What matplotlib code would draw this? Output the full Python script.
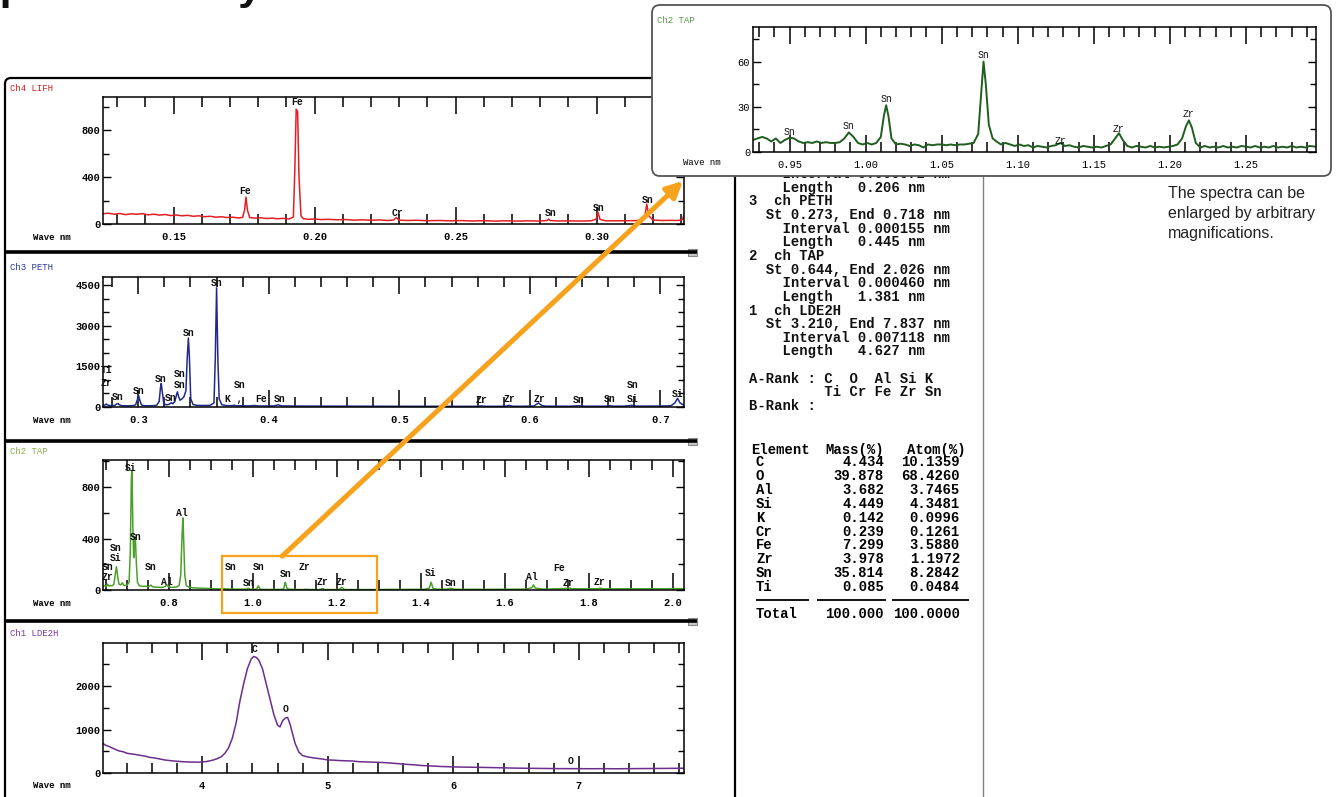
import matplotlib
matplotlib.use('Agg')
import matplotlib.pyplot as plt
from matplotlib.patches import FancyBboxPatch, Rectangle, FancyArrowPatch
from matplotlib.ticker import MultipleLocator, FormatStrFormatter
from matplotlib.transforms import Bbox, TransformedBbox

W, H = 1337, 797
plt.rcParams['font.family'] = ['Liberation Mono', 'DejaVu Sans Mono']
plt.rcParams['font.weight'] = 'bold'

# ---- spectra: (wavelength nm, counts) ----
ch4_spectrum = [
    (0.125, 88), (0.127, 92), (0.129, 84), (0.131, 90), (0.133, 80), (0.135, 87), (0.137, 83),
    (0.139, 89), (0.141, 78), (0.143, 84), (0.145, 76), (0.147, 81), (0.149, 72), (0.151, 77),
    (0.153, 70), (0.155, 74), (0.157, 66), (0.159, 70), (0.161, 62), (0.163, 66), (0.165, 58),
    (0.167, 62), (0.169, 55), (0.171, 58), (0.173, 52), (0.1745, 56), (0.1752, 120), (0.1757, 230),
    (0.1762, 120), (0.1770, 55), (0.179, 50), (0.181, 53), (0.183, 47), (0.185, 50), (0.187, 45),
    (0.189, 48), (0.191, 43), (0.1925, 60), (0.1930, 450), (0.1935, 980), (0.1940, 960),
    (0.1945, 400), (0.1952, 70), (0.196, 45), (0.198, 40), (0.200, 43), (0.202, 38), (0.205, 40),
    (0.208, 36), (0.211, 38), (0.214, 33), (0.217, 36), (0.220, 32), (0.223, 35), (0.226, 30),
    (0.228, 34), (0.229, 55), (0.230, 33), (0.233, 30), (0.236, 32), (0.240, 28), (0.244, 30),
    (0.248, 27), (0.252, 29), (0.256, 26), (0.260, 28), (0.264, 25), (0.268, 27), (0.272, 25),
    (0.276, 27), (0.280, 25), (0.2825, 30), (0.2830, 42), (0.2835, 30), (0.286, 26), (0.290, 27),
    (0.294, 25), (0.298, 27), (0.2998, 40), (0.3005, 100), (0.3012, 40), (0.303, 28), (0.306, 27),
    (0.310, 28), (0.314, 29), (0.316, 33), (0.3172, 80), (0.3178, 170), (0.3185, 70), (0.320, 34),
    (0.323, 30), (0.326, 31), (0.329, 30), (0.3305, 40), (0.331, 80),
]

ch3_spectrum = [
    (0.273, 60), (0.2745, 70), (0.2755, 110), (0.2765, 70), (0.278, 55), (0.280, 50), (0.282, 60),
    (0.2835, 110), (0.2845, 130), (0.2855, 80), (0.287, 50), (0.290, 45), (0.293, 45), (0.296, 50),
    (0.298, 80), (0.2995, 300), (0.3003, 420), (0.3012, 250), (0.3025, 70), (0.305, 45), (0.308, 45),
    (0.311, 50), (0.314, 60), (0.3160, 200), (0.3170, 700), (0.3176, 870), (0.3183, 600),
    (0.3195, 150), (0.321, 80), (0.323, 90), (0.3245, 130), (0.3255, 160), (0.3265, 120),
    (0.328, 200), (0.3293, 450), (0.3300, 560), (0.3308, 400), (0.332, 250), (0.3335, 300),
    (0.3350, 380), (0.3365, 600), (0.3375, 1800), (0.3384, 2550), (0.3392, 1800), (0.3402, 300),
    (0.342, 90), (0.345, 60), (0.350, 55), (0.355, 60), (0.3580, 150), (0.3590, 1800),
    (0.3600, 4400), (0.3610, 1700), (0.3620, 300), (0.364, 80), (0.368, 50), (0.372, 50),
    (0.3735, 65), (0.375, 45), (0.380, 45), (0.385, 40), (0.3890, 55), (0.392, 38), (0.398, 38),
    (0.404, 40), (0.4070, 80), (0.410, 40), (0.42, 35), (0.43, 33), (0.44, 32), (0.45, 30),
    (0.46, 30), (0.47, 28), (0.48, 28), (0.49, 27), (0.50, 27), (0.51, 26), (0.52, 26), (0.53, 25),
    (0.54, 25), (0.55, 25), (0.560, 26), (0.5630, 40), (0.566, 25), (0.575, 25), (0.581, 28),
    (0.5840, 60), (0.587, 27), (0.595, 27), (0.603, 35), (0.6065, 150), (0.6090, 60), (0.612, 30),
    (0.620, 28), (0.630, 28), (0.6370, 45), (0.642, 28), (0.650, 28), (0.658, 30), (0.6610, 45),
    (0.664, 30), (0.672, 32), (0.6780, 60), (0.682, 32), (0.690, 33), (0.700, 35), (0.708, 45),
    (0.7110, 150), (0.7130, 320), (0.7150, 150), (0.718, 60),
]

ch2_spectrum = [
    (0.644, 30), (0.648, 35), (0.652, 30), (0.655, 45), (0.658, 30), (0.662, 35), (0.666, 32),
    (0.670, 45), (0.673, 120), (0.676, 180), (0.679, 100), (0.682, 45), (0.686, 40), (0.690, 55),
    (0.694, 35), (0.698, 35), (0.702, 40), (0.706, 60), (0.709, 300), (0.7115, 880), (0.7130, 920),
    (0.7150, 500), (0.7170, 250), (0.7190, 380), (0.7210, 400), (0.7235, 200), (0.7260, 60),
    (0.730, 35), (0.735, 30), (0.740, 28), (0.745, 30), (0.750, 25), (0.755, 30), (0.758, 38),
    (0.762, 25), (0.768, 22), (0.775, 22), (0.782, 20), (0.788, 22), (0.793, 30), (0.796, 40),
    (0.799, 28), (0.804, 22), (0.810, 20), (0.815, 22), (0.820, 25), (0.825, 35), (0.829, 120),
    (0.832, 420), (0.8340, 560), (0.8360, 380), (0.8385, 120), (0.842, 35), (0.848, 22),
    (0.855, 18), (0.862, 16), (0.870, 15), (0.878, 14), (0.886, 13), (0.894, 12), (0.902, 11),
    (0.910, 10), (0.918, 9),
    # detailed stretch shown enlarged in the inset
    (0.926, 8), (0.929, 9), (0.932, 10), (0.935, 9), (0.938, 7), (0.941, 9), (0.944, 6),
    (0.947, 8), (0.950, 9.5), (0.953, 9), (0.956, 7), (0.959, 6), (0.962, 6.5), (0.965, 6),
    (0.968, 7), (0.971, 6), (0.974, 6.5), (0.977, 6), (0.980, 6), (0.983, 6.5), (0.986, 9),
    (0.989, 13), (0.992, 10), (0.995, 6), (0.998, 5), (1.001, 6), (1.004, 5), (1.007, 6),
    (1.010, 10), (1.012, 24), (1.0135, 31), (1.015, 24), (1.017, 9), (1.020, 5), (1.023, 5.5),
    (1.026, 5), (1.029, 4), (1.032, 5), (1.035, 4.5), (1.038, 3), (1.041, 5), (1.044, 4.5),
    (1.047, 5), (1.050, 5), (1.053, 4.5), (1.056, 5), (1.059, 4.5), (1.062, 5), (1.065, 5),
    (1.068, 5.5), (1.071, 6), (1.074, 12), (1.0760, 40), (1.0775, 60), (1.0790, 45), (1.0810, 18),
    (1.0835, 9), (1.086, 7), (1.089, 5), (1.092, 6), (1.095, 5), (1.098, 4), (1.101, 5),
    (1.104, 4), (1.107, 4.5), (1.110, 3), (1.113, 4), (1.116, 3.5), (1.119, 3), (1.122, 4),
    (1.125, 4.5), (1.128, 6), (1.131, 4), (1.134, 4.5), (1.137, 3.5), (1.140, 3), (1.143, 4),
    (1.146, 3.5), (1.149, 3), (1.152, 3.5), (1.155, 3), (1.158, 4), (1.161, 5), (1.164, 9),
    (1.1665, 12.5), (1.169, 8), (1.172, 4), (1.175, 3), (1.178, 4), (1.181, 3.5), (1.184, 3),
    (1.187, 4), (1.190, 3), (1.193, 3.5), (1.196, 3), (1.199, 3.5), (1.202, 4), (1.205, 5),
    (1.208, 9), (1.2105, 17), (1.2125, 21), (1.2145, 16), (1.217, 6), (1.220, 3), (1.223, 4),
    (1.226, 3), (1.229, 3.5), (1.232, 3), (1.235, 4), (1.238, 3), (1.241, 3.5), (1.244, 3),
    (1.247, 4), (1.250, 3.5), (1.253, 3), (1.256, 4), (1.259, 3), (1.262, 3.5), (1.265, 3),
    (1.268, 4), (1.271, 3), (1.274, 3.5), (1.277, 3), (1.280, 4), (1.283, 3), (1.286, 3.5),
    (1.289, 3), (1.292, 4), (1.296, 3.5),
    (1.31, 4), (1.33, 5), (1.35, 4), (1.37, 5), (1.39, 5), (1.41, 6), (1.42, 15), (1.4245, 60),
    (1.429, 12), (1.44, 6), (1.46, 6), (1.472, 14), (1.48, 6), (1.50, 5), (1.53, 6), (1.56, 5),
    (1.59, 6), (1.62, 6), (1.65, 7), (1.664, 18), (1.668, 40), (1.672, 15), (1.69, 7), (1.71, 8),
    (1.73, 10), (1.745, 12), (1.752, 16), (1.76, 10), (1.78, 9), (1.80, 9), (1.82, 10),
    (1.826, 14), (1.835, 9), (1.86, 9), (1.89, 10), (1.92, 9), (1.95, 10), (1.98, 9), (2.0, 11),
    (2.026, 10),
]

ch1_spectrum = [
    (3.21, 680), (3.23, 640), (3.25, 620), (3.28, 580), (3.31, 540), (3.34, 505), (3.37, 490),
    (3.40, 455), (3.43, 440), (3.46, 430), (3.49, 415), (3.52, 400), (3.55, 385), (3.58, 360),
    (3.61, 350), (3.64, 335), (3.67, 318), (3.70, 300), (3.73, 290), (3.76, 280), (3.79, 272),
    (3.82, 266), (3.85, 258), (3.88, 256), (3.91, 250), (3.94, 252), (3.97, 248), (4.00, 255),
    (4.03, 262), (4.06, 280), (4.09, 300), (4.12, 330), (4.15, 370), (4.18, 450), (4.21, 580),
    (4.24, 800), (4.27, 1150), (4.30, 1650), (4.33, 2050), (4.36, 2400), (4.39, 2620),
    (4.41, 2680), (4.43, 2660), (4.45, 2600), (4.48, 2400), (4.51, 2050), (4.54, 1700),
    (4.57, 1350), (4.60, 1100), (4.62, 1060), (4.64, 1200), (4.66, 1260), (4.68, 1280),
    (4.70, 1120), (4.72, 900), (4.74, 680), (4.77, 480), (4.80, 400), (4.84, 370), (4.88, 350),
    (4.92, 335), (4.96, 320), (5.00, 300), (5.05, 295), (5.10, 285), (5.15, 280), (5.20, 275),
    (5.25, 260), (5.30, 255), (5.35, 250), (5.40, 245), (5.45, 240), (5.50, 228), (5.55, 218),
    (5.60, 205), (5.65, 195), (5.70, 185), (5.75, 172), (5.80, 165), (5.85, 158), (5.90, 150),
    (5.95, 145), (6.00, 140), (6.10, 135), (6.20, 130), (6.30, 125), (6.40, 118), (6.50, 112),
    (6.60, 108), (6.70, 105), (6.80, 102), (6.90, 100), (7.00, 100), (7.10, 98), (7.20, 100),
    (7.30, 97), (7.40, 100), (7.50, 102), (7.60, 104), (7.70, 106), (7.837, 110),
]

# ---- element markers: (symbol, wavelength, label height) ----
ch4_peaks = [("Fe", 0.1937, 1040), ("Fe", 0.1755, 285), ("Cr", 0.2294, 95), ("Sn", 0.2837, 95),
             ("Sn", 0.3008, 135), ("Sn", 0.3183, 205)]
ch3_peaks = [("Ti", 0.2755, 1380), ("Zr", 0.2755, 870), ("Sn", 0.2845, 360), ("Sn", 0.3003, 600),
             ("Sn", 0.3175, 1050), ("Sn", 0.3252, 320), ("Sn", 0.3318, 820), ("Sn", 0.3318, 1230),
             ("Sn", 0.3384, 2740), ("Sn", 0.3600, 4560), ("Sn", 0.3780, 800), ("K ,", 0.3735, 280),
             ("Fe", 0.3940, 280), ("Sn", 0.4085, 280), ("Zr", 0.5630, 250), ("Zr", 0.5840, 280),
             ("Zr", 0.6070, 280), ("Sn", 0.6370, 250), ("Sn", 0.6610, 280), ("Si", 0.6785, 280),
             ("Sn", 0.6785, 800), ("Si", 0.7135, 490)]
ch2_peaks = [("Si", 0.710, 950), ("Sn", 0.721, 413), ("Al", 0.832, 600), ("Sn", 0.675, 323),
             ("Si", 0.675, 245), ("Sn", 0.655, 181), ("Zr", 0.655, 103), ("Sn", 0.758, 181),
             ("Al", 0.795, 65), ("Sn", 0.948, 181), ("Sn", 0.990, 52), ("Sn", 1.014, 181),
             ("Sn", 1.078, 124), ("Zr", 1.123, 181), ("Zr", 1.165, 65), ("Zr", 1.211, 65),
             ("Si", 1.424, 129), ("Sn", 1.472, 52), ("Al", 1.664, 103), ("Fe", 1.728, 168),
             ("Zr", 1.751, 52), ("Zr", 1.824, 65)]
ch1_peaks = [("C", 4.42, 2850), ("O", 4.66, 1470), ("O", 6.93, 275)]
zoom_peaks = [("Sn", 0.950, 13), ("Sn", 0.989, 17), ("Sn", 1.0135, 35), ("Sn", 1.0775, 64.5),
              ("Zr", 1.128, 7), ("Zr", 1.1665, 15.5), ("Zr", 1.2125, 25)]

# scan ranges of the four channels and the enlarged window
ch4_range, ch3_range, ch2_range, ch1_range = (0.125, 0.331), (0.273, 0.718), (0.644, 2.026), (3.210, 7.837)
zoom_range = (0.926, 1.296)

scan_lines = [
    "    Interval 0.000072 nm",
    "    Length   0.206 nm",
    "3  ch PETH",
    "  St 0.273, End 0.718 nm",
    "    Interval 0.000155 nm",
    "    Length   0.445 nm",
    "2  ch TAP",
    "  St 0.644, End 2.026 nm",
    "    Interval 0.000460 nm",
    "    Length   1.381 nm",
    "1  ch LDE2H",
    "  St 3.210, End 7.837 nm",
    "    Interval 0.007118 nm",
    "    Length   4.627 nm",
    "",
    "A-Rank : C  O  Al Si K",
    "         Ti Cr Fe Zr Sn",
    "B-Rank :",
]
elements = ["C", "O", "Al", "Si", "K", "Cr", "Fe", "Zr", "Sn", "Ti"]
mass_pct = ["4.434", "39.878", "3.682", "4.449", "0.142", "0.239", "7.299", "3.978", "35.814", "0.085"]
atom_pct = ["10.1359", "68.4260", "3.7465", "4.3481", "0.0996", "0.1261", "3.5880", "1.1972", "8.2842", "0.0484"]

fig = plt.figure(figsize=(W / 100, H / 100), dpi=100)


def px_axes(left, top, right, bottom, z):
    return fig.add_axes([left / W, 1 - bottom / H, (right - left) / W, (bottom - top) / H], zorder=z)


def overlay(z):
    ax = px_axes(0, 0, W, H, z)
    ax.set_xlim(0, W)
    ax.set_ylim(H, 0)
    ax.axis('off')
    ax.patch.set_visible(False)
    return ax


def spectrum_panel(box, data, color, xlim, ylim, xmaj, xmin, ymaj, ymin, xfmt, peaks,
                   z=1, weight='bold', lw=1.1):
    ax = px_axes(*box, z)
    wave, counts = zip(*data)
    ax.plot(wave, counts, color=color, lw=lw)
    ax.set_xlim(*xlim)
    ax.set_ylim(*ylim)
    ax.xaxis.set_major_locator(MultipleLocator(xmaj))
    ax.xaxis.set_minor_locator(MultipleLocator(xmin))
    ax.yaxis.set_major_locator(MultipleLocator(ymaj))
    ax.yaxis.set_minor_locator(MultipleLocator(ymin))
    ax.xaxis.set_major_formatter(FormatStrFormatter(xfmt))
    ax.yaxis.set_major_formatter(FormatStrFormatter('%d'))
    ax.tick_params(axis='x', which='both', direction='in', top=True, bottom=True,
                   labelsize=7.5, pad=6, width=1.1)
    ax.tick_params(axis='x', which='major', length=12)
    ax.tick_params(axis='x', which='minor', length=7)
    ax.tick_params(axis='y', which='both', direction='in', left=True, right=True,
                   labelsize=7.5, pad=2, width=1)
    ax.tick_params(axis='y', which='major', length=6)
    ax.tick_params(axis='y', which='minor', length=4)
    for lbl in ax.get_xticklabels() + ax.get_yticklabels():
        lbl.set_fontweight(weight)
    for s in ax.spines.values():
        s.set_linewidth(1.1)
    for name, x, y in peaks:
        ax.text(x, y, name, fontsize=7, ha='center', va='center', color='#111111',
                fontweight=weight, clip_on=False)
    return ax


# background: frames, separators and the result listing
bg = overlay(0)
bg.add_patch(FancyBboxPatch((5, 78), 730, 740, boxstyle='round,pad=0,rounding_size=6',
                            fill=False, ec='black', lw=1.6))
for y in (252, 441, 621):
    bg.plot([5, 697], [y, y], color='black', lw=2.6, solid_capstyle='butt')
    bg.add_patch(Rectangle((688, y - 3.5), 9, 7, fc='#c8c8c8', ec='#8a8a8a', lw=0.8))
bg.plot([983, 983], [176, 797], color='#808080', lw=1)

# heading at the top edge (only its lower part falls inside the page)
bg.text(-29, -1, "Spectral analysis", fontsize=31, family='Liberation Sans', fontweight='bold',
        va='baseline', ha='left', color='#111111')

# listing column; its first line runs under the inset frame
listing_clip = TransformedBbox(Bbox([[735, 176], [983, 797]]), bg.transData)
for i, line in enumerate(scan_lines):
    t = bg.text(749, 174 + i * 13.65, line, fontsize=10, va='center', ha='left', color='#111111')
    t.set_clip_box(listing_clip)
    t.set_clip_on(True)

row0, row_step = 462, 13.9
bg.text(751, 450, "Element", fontsize=10, va='center', ha='left')
bg.text(884, 450, "Mass(%)", fontsize=10, va='center', ha='right')
bg.text(966, 450, "Atom(%)", fontsize=10, va='center', ha='right')
for i, (el, m, a) in enumerate(zip(elements, mass_pct, atom_pct)):
    y = row0 + i * row_step
    bg.text(756, y, el, fontsize=10, va='center', ha='left')
    bg.text(884, y, m, fontsize=10, va='center', ha='right')
    bg.text(960, y, a, fontsize=10, va='center', ha='right')
y_rule = row0 + len(elements) * row_step - 1
for x0, x1 in ((757, 808), (818, 885), (893, 968)):
    bg.plot([x0, x1], [y_rule, y_rule], color='#111111', lw=1.4)
bg.text(756, y_rule + 14, "Total", fontsize=10, va='center', ha='left')
bg.text(884, y_rule + 14, "100.000", fontsize=10, va='center', ha='right')
bg.text(960, y_rule + 14, "100.0000", fontsize=10, va='center', ha='right')

for i, line in enumerate(["The spectra can be", "enlarged by arbitrary", "magnifications."]):
    bg.text(1168, 193 + i * 20, line, fontsize=11.5, family='Liberation Sans', fontweight='normal',
            va='center', ha='left', color='#222222')

# the four channel panels
panels = [
    ("Ch4 LIFH", '#d42020', 97, 224,
     dict(data=ch4_spectrum, color='#e31e24', xlim=ch4_range, ylim=(0, 1085), xmaj=0.05, xmin=0.01,
          ymaj=400, ymin=200, xfmt='%.2f', peaks=ch4_peaks)),
    ("Ch3 PETH", '#2a3a9a', 277, 407,
     dict(data=ch3_spectrum, color='#1f2a8c', xlim=ch3_range, ylim=(0, 4800), xmaj=0.1, xmin=0.02,
          ymaj=1500, ymin=500, xfmt='%.1f', peaks=ch3_peaks)),
    ("Ch2 TAP", '#8ab04a', 460, 590,
     dict(data=ch2_spectrum, color='#4aa02a', xlim=ch2_range, ylim=(0, 1010), xmaj=0.2, xmin=0.05,
          ymaj=400, ymin=200, xfmt='%.1f', peaks=ch2_peaks)),
    ("Ch1 LDE2H", '#7a3a9a', 643, 773,
     dict(data=ch1_spectrum, color='#6d2d8c', xlim=ch1_range, ylim=(0, 2990), xmaj=1, xmin=0.2,
          ymaj=1000, ymin=500, xfmt='%d', peaks=ch1_peaks)),
]
axes = []
for title, tcolor, top, bottom, kw in panels:
    ax = spectrum_panel((103, top, 684, bottom), **kw)
    axes.append(ax)
    bg.text(10, top - 9, title, fontsize=6.5, fontweight='normal', color=tcolor, va='center')
    bg.text(33, bottom + 13, "Wave nm", fontsize=6.5, va='center', ha='left')
ax_ch2 = axes[2]

# window on Ch2 that is enlarged in the inset
orange = '#f6a21c'
ax_ch2.add_patch(Rectangle((zoom_range[0], -0.177), zoom_range[1] - zoom_range[0], 0.437,
                           transform=ax_ch2.get_xaxis_transform(), fill=False, ec=orange,
                           lw=1.6, clip_on=False, zorder=5))

# foreground: inset frame and pointer arrow
fg = overlay(3)
fg.add_patch(FancyBboxPatch((652, 5), 679, 171, boxstyle='round,pad=0,rounding_size=8',
                            fc='white', ec='#555555', lw=1.3))
fg.text(657, 20, "Ch2 TAP", fontsize=6.5, fontweight='normal', color='#5a9a4a', va='center')
fg.text(683, 162, "Wave nm", fontsize=6.5, fontweight='normal', va='center', ha='left')

tail = ax_ch2.get_xaxis_transform().transform((1.07, 0.26))
tail = fg.transData.inverted().transform(tail)
fg.add_patch(FancyArrowPatch(tuple(tail), (683, 181), arrowstyle='-|>', mutation_scale=24,
                             color=orange, lw=3.6, shrinkA=0, shrinkB=0))

# enlarged part of the TAP spectrum
ax_zoom = spectrum_panel((753, 27, 1316, 152), ch2_spectrum, '#1f5e1f', zoom_range, (0, 83),
                         0.05, 0.01, 30, 15, '%.2f', zoom_peaks, z=4, weight='normal', lw=1.4)
ax_zoom.patch.set_facecolor('white')

fig.savefig('out.png', dpi=100, facecolor='white')
